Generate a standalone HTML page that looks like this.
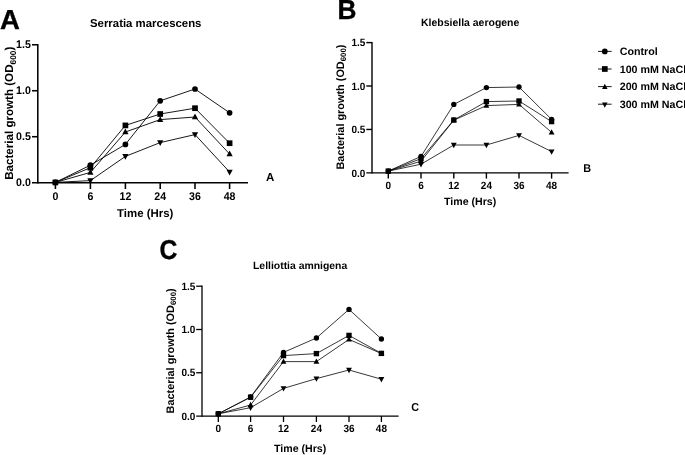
<!DOCTYPE html>
<html><head><meta charset="utf-8"><title>Bacterial growth</title>
<style>html,body{margin:0;padding:0;background:#fff;overflow:hidden}svg{display:block;will-change:transform}</style></head>
<body>
<svg width="685" height="455" viewBox="0 0 685 455" font-family="'Liberation Sans', sans-serif" fill="#000" text-rendering="geometricPrecision">
<rect width="685" height="455" fill="#fff"/>
<g stroke="#000" stroke-width="1.55" fill="none" stroke-linecap="butt">
<path d="M37.8 43.98 V183.47"/>
<path d="M32 182.7 H248"/>
<path d="M32 44.75 H37.8"/>
<path d="M32 90.73 H37.8"/>
<path d="M32 136.72 H37.8"/>
<path d="M55.4 182.7 V189"/>
<path d="M90.4 182.7 V189"/>
<path d="M125.4 182.7 V189"/>
<path d="M160.2 182.7 V189"/>
<path d="M195 182.7 V189"/>
<path d="M229.6 182.7 V189"/>
</g>
<g font-size="10.6" font-weight="bold">
<text transform="translate(30.8 48.35) scale(1 1.05)" text-anchor="end">1.5</text>
<text transform="translate(30.8 94.33) scale(1 1.05)" text-anchor="end">1.0</text>
<text transform="translate(30.8 140.32) scale(1 1.05)" text-anchor="end">0.5</text>
<text transform="translate(30.8 186.30) scale(1 1.05)" text-anchor="end">0.0</text>
<text transform="translate(55.4 199.6) scale(1 1.05)" text-anchor="middle">0</text>
<text transform="translate(90.4 199.6) scale(1 1.05)" text-anchor="middle">6</text>
<text transform="translate(125.4 199.6) scale(1 1.05)" text-anchor="middle">12</text>
<text transform="translate(160.2 199.6) scale(1 1.05)" text-anchor="middle">24</text>
<text transform="translate(195 199.6) scale(1 1.05)" text-anchor="middle">36</text>
<text transform="translate(229.6 199.6) scale(1 1.05)" text-anchor="middle">48</text>
</g>
<text x="117" y="217" font-size="11.45" font-weight="bold">Time (Hrs)</text>
<text x="90" y="26.8" font-size="11.4" font-weight="bold">Serratia marcescens</text>
<text transform="translate(13.3 179.8) rotate(-90)" font-size="11.6" font-weight="bold">Bacterial growth (OD<tspan font-size="8.35" dy="2.44">600</tspan><tspan dy="-2.44">)</tspan></text>
<text transform="translate(0.05 28.9) scale(1 1)" font-size="27.5" font-weight="bold" stroke="#000" stroke-width="0.35">A</text>
<text transform="translate(266 181.3) scale(1 1)" font-size="11.5" font-weight="bold">A</text>
<polyline points="55.40,182.40 90.40,165.20 125.40,144.40 160.20,100.80 195.00,89.00 229.60,112.80" fill="none" stroke="#000" stroke-width="0.9"/>
<polyline points="55.40,182.40 90.40,167.70 125.40,125.40 160.20,114.00 195.00,108.20 229.60,143.20" fill="none" stroke="#000" stroke-width="0.9"/>
<polyline points="55.40,182.40 90.40,172.40 125.40,132.00 160.20,119.60 195.00,117.00 229.60,154.00" fill="none" stroke="#000" stroke-width="0.9"/>
<polyline points="55.40,182.40 90.40,180.60 125.40,156.40 160.20,142.60 195.00,134.60 229.60,172.00" fill="none" stroke="#000" stroke-width="0.9"/>
<circle cx="55.40" cy="182.40" r="2.85"/>
<circle cx="90.40" cy="165.20" r="2.85"/>
<circle cx="125.40" cy="144.40" r="2.85"/>
<circle cx="160.20" cy="100.80" r="2.85"/>
<circle cx="195.00" cy="89.00" r="2.85"/>
<circle cx="229.60" cy="112.80" r="2.85"/>
<rect x="52.55" y="179.55" width="5.7" height="5.7"/>
<rect x="87.55" y="164.85" width="5.7" height="5.7"/>
<rect x="122.55" y="122.55" width="5.7" height="5.7"/>
<rect x="157.35" y="111.15" width="5.7" height="5.7"/>
<rect x="192.15" y="105.35" width="5.7" height="5.7"/>
<rect x="226.75" y="140.35" width="5.7" height="5.7"/>
<polygon points="90.40,168.98 93.50,174.68 87.30,174.68"/>
<polygon points="125.40,128.58 128.50,134.28 122.30,134.28"/>
<polygon points="160.20,116.18 163.30,121.88 157.10,121.88"/>
<polygon points="195.00,113.58 198.10,119.28 191.90,119.28"/>
<polygon points="229.60,150.58 232.70,156.28 226.50,156.28"/>
<polygon points="90.40,184.02 93.50,178.32 87.30,178.32"/>
<polygon points="125.40,159.82 128.50,154.12 122.30,154.12"/>
<polygon points="160.20,146.02 163.30,140.32 157.10,140.32"/>
<polygon points="195.00,138.02 198.10,132.32 191.90,132.32"/>
<polygon points="229.60,175.42 232.70,169.72 226.50,169.72"/>
<g stroke="#000" stroke-width="1.4" fill="none" stroke-linecap="butt">
<path d="M372 41.90 V173.55"/>
<path d="M366.3 172.85 H568.6"/>
<path d="M366.3 42.6 H372"/>
<path d="M366.3 86.0 H372"/>
<path d="M366.3 129.45 H372"/>
<path d="M388.3 172.85 V178.6"/>
<path d="M421 172.85 V178.6"/>
<path d="M453.8 172.85 V178.6"/>
<path d="M486.4 172.85 V178.6"/>
<path d="M519 172.85 V178.6"/>
<path d="M551.6 172.85 V178.6"/>
</g>
<g font-size="10.0" font-weight="bold">
<text transform="translate(365.4 46.25) scale(1 1.05)" text-anchor="end">1.5</text>
<text transform="translate(365.4 89.65) scale(1 1.05)" text-anchor="end">1.0</text>
<text transform="translate(365.4 133.10) scale(1 1.05)" text-anchor="end">0.5</text>
<text transform="translate(365.4 176.50) scale(1 1.05)" text-anchor="end">0.0</text>
<text transform="translate(388.3 188.8) scale(1 1.05)" text-anchor="middle">0</text>
<text transform="translate(421 188.8) scale(1 1.05)" text-anchor="middle">6</text>
<text transform="translate(453.8 188.8) scale(1 1.05)" text-anchor="middle">12</text>
<text transform="translate(486.4 188.8) scale(1 1.05)" text-anchor="middle">24</text>
<text transform="translate(519 188.8) scale(1 1.05)" text-anchor="middle">36</text>
<text transform="translate(551.6 188.8) scale(1 1.05)" text-anchor="middle">48</text>
</g>
<text x="444" y="205.2" font-size="10.6" font-weight="bold">Time (Hrs)</text>
<text x="421" y="26" font-size="10.48" font-weight="bold">Klebsiella aerogene</text>
<text transform="translate(344.0 169.6) rotate(-90)" font-size="10.9" font-weight="bold">Bacterial growth (OD<tspan font-size="7.85" dy="2.29">600</tspan><tspan dy="-2.29">)</tspan></text>
<text transform="translate(337.5 19.0) scale(0.955 1)" font-size="27.5" font-weight="bold" stroke="#000" stroke-width="0.35">B</text>
<text transform="translate(583.2 171.5) scale(0.97 1)" font-size="11.2" font-weight="bold">B</text>
<polyline points="388.30,171.10 421.00,156.40 453.80,104.40 486.40,87.60 519.00,87.00 551.60,119.40" fill="none" stroke="#000" stroke-width="0.78"/>
<polyline points="388.30,171.10 421.00,158.70 453.80,120.00 486.40,101.60 519.00,101.00 551.60,121.60" fill="none" stroke="#000" stroke-width="0.78"/>
<polyline points="388.30,171.10 421.00,161.20 453.80,120.20 486.40,105.60 519.00,104.40 551.60,132.40" fill="none" stroke="#000" stroke-width="0.78"/>
<polyline points="388.30,171.10 421.00,164.20 453.80,145.00 486.40,145.00 519.00,135.40 551.60,151.60" fill="none" stroke="#000" stroke-width="0.78"/>
<circle cx="388.30" cy="171.10" r="2.68"/>
<circle cx="421.00" cy="156.40" r="2.68"/>
<circle cx="453.80" cy="104.40" r="2.68"/>
<circle cx="486.40" cy="87.60" r="2.68"/>
<circle cx="519.00" cy="87.00" r="2.68"/>
<circle cx="551.60" cy="119.40" r="2.68"/>
<rect x="385.62" y="168.42" width="5.358" height="5.358"/>
<rect x="418.32" y="156.02" width="5.358" height="5.358"/>
<rect x="451.12" y="117.32" width="5.358" height="5.358"/>
<rect x="483.72" y="98.92" width="5.358" height="5.358"/>
<rect x="516.32" y="98.32" width="5.358" height="5.358"/>
<rect x="548.92" y="118.92" width="5.358" height="5.358"/>
<polygon points="421.00,157.99 423.91,163.34 418.09,163.34"/>
<polygon points="453.80,116.99 456.71,122.34 450.89,122.34"/>
<polygon points="486.40,102.39 489.31,107.74 483.49,107.74"/>
<polygon points="519.00,101.19 521.91,106.54 516.09,106.54"/>
<polygon points="551.60,129.19 554.51,134.54 548.69,134.54"/>
<polygon points="421.00,167.41 423.91,162.06 418.09,162.06"/>
<polygon points="453.80,148.21 456.71,142.86 450.89,142.86"/>
<polygon points="486.40,148.21 489.31,142.86 483.49,142.86"/>
<polygon points="519.00,138.61 521.91,133.26 516.09,133.26"/>
<polygon points="551.60,154.81 554.51,149.46 548.69,149.46"/>
<g stroke="#000" stroke-width="1.3" fill="none" stroke-linecap="butt">
<path d="M202.0 285.55 V416.70"/>
<path d="M196.2 416.05 H398.6"/>
<path d="M196.2 286.2 H202.0"/>
<path d="M196.2 329.5 H202.0"/>
<path d="M196.2 372.75 H202.0"/>
<path d="M218.3 416.05 V422"/>
<path d="M250.6 416.05 V422"/>
<path d="M283.5 416.05 V422"/>
<path d="M316.4 416.05 V422"/>
<path d="M349 416.05 V422"/>
<path d="M381.4 416.05 V422"/>
</g>
<g font-size="10.0" font-weight="bold">
<text transform="translate(195.4 289.85) scale(1 1.05)" text-anchor="end">1.5</text>
<text transform="translate(195.4 333.15) scale(1 1.05)" text-anchor="end">1.0</text>
<text transform="translate(195.4 376.40) scale(1 1.05)" text-anchor="end">0.5</text>
<text transform="translate(195.4 419.70) scale(1 1.05)" text-anchor="end">0.0</text>
<text transform="translate(218.3 432.3) scale(1 1.05)" text-anchor="middle">0</text>
<text transform="translate(250.6 432.3) scale(1 1.05)" text-anchor="middle">6</text>
<text transform="translate(283.5 432.3) scale(1 1.05)" text-anchor="middle">12</text>
<text transform="translate(316.4 432.3) scale(1 1.05)" text-anchor="middle">24</text>
<text transform="translate(349 432.3) scale(1 1.05)" text-anchor="middle">36</text>
<text transform="translate(381.4 432.3) scale(1 1.05)" text-anchor="middle">48</text>
</g>
<text x="274" y="452" font-size="10.6" font-weight="bold">Time (Hrs)</text>
<text x="253" y="269" font-size="10.42" font-weight="bold">Lelliottia amnigena</text>
<text transform="translate(173.8 413.4) rotate(-90)" font-size="10.9" font-weight="bold">Bacterial growth (OD<tspan font-size="7.85" dy="2.29">600</tspan><tspan dy="-2.29">)</tspan></text>
<text transform="translate(159.4 259.3) scale(0.905 1)" font-size="27.3" font-weight="bold" stroke="#000" stroke-width="0.35">C</text>
<text transform="translate(411.2 411.2) scale(0.93 1)" font-size="11.6" font-weight="bold">C</text>
<polyline points="218.30,413.80 250.60,397.00 283.50,352.40 316.40,338.00 349.00,309.40 381.40,339.00" fill="none" stroke="#000" stroke-width="0.78"/>
<polyline points="218.30,413.80 250.60,397.20 283.50,355.60 316.40,353.60 349.00,335.40 381.40,353.40" fill="none" stroke="#000" stroke-width="0.78"/>
<polyline points="218.30,413.80 250.60,405.00 283.50,361.60 316.40,361.60 349.00,339.40 381.40,353.60" fill="none" stroke="#000" stroke-width="0.78"/>
<polyline points="218.30,413.80 250.60,407.70 283.50,388.40 316.40,378.60 349.00,370.00 381.40,379.20" fill="none" stroke="#000" stroke-width="0.78"/>
<circle cx="218.30" cy="413.80" r="2.68"/>
<circle cx="250.60" cy="397.00" r="2.68"/>
<circle cx="283.50" cy="352.40" r="2.68"/>
<circle cx="316.40" cy="338.00" r="2.68"/>
<circle cx="349.00" cy="309.40" r="2.68"/>
<circle cx="381.40" cy="339.00" r="2.68"/>
<rect x="215.62" y="411.12" width="5.358" height="5.358"/>
<rect x="247.92" y="394.52" width="5.358" height="5.358"/>
<rect x="280.82" y="352.92" width="5.358" height="5.358"/>
<rect x="313.72" y="350.92" width="5.358" height="5.358"/>
<rect x="346.32" y="332.72" width="5.358" height="5.358"/>
<rect x="378.72" y="350.72" width="5.358" height="5.358"/>
<polygon points="250.60,401.79 253.51,407.14 247.69,407.14"/>
<polygon points="283.50,358.39 286.41,363.74 280.59,363.74"/>
<polygon points="316.40,358.39 319.31,363.74 313.49,363.74"/>
<polygon points="349.00,336.19 351.91,341.54 346.09,341.54"/>
<polygon points="381.40,350.39 384.31,355.74 378.49,355.74"/>
<polygon points="250.60,410.91 253.51,405.56 247.69,405.56"/>
<polygon points="283.50,391.61 286.41,386.26 280.59,386.26"/>
<polygon points="316.40,381.81 319.31,376.46 313.49,376.46"/>
<polygon points="349.00,373.21 351.91,367.86 346.09,367.86"/>
<polygon points="381.40,382.41 384.31,377.06 378.49,377.06"/>
<path d="M598 51.4 H611.6" stroke="#000" stroke-width="0.9"/>
<circle cx="604.80" cy="51.40" r="2.85"/>
<text x="619.7" y="55.05" font-size="10.7" font-weight="bold">Control</text>
<path d="M598 69 H611.6" stroke="#000" stroke-width="0.9"/>
<rect x="601.95" y="66.15" width="5.7" height="5.7"/>
<text x="619.7" y="72.65" font-size="10.7" font-weight="bold">100 mM NaCl</text>
<path d="M598 86.6 H611.6" stroke="#000" stroke-width="0.9"/>
<polygon points="604.80,83.72 607.55,89.02 602.05,89.02"/>
<text x="619.7" y="90.25" font-size="10.7" font-weight="bold">200 mM NaCl</text>
<path d="M598 104.2 H611.6" stroke="#000" stroke-width="0.9"/>
<polygon points="604.80,107.68 607.55,102.38 602.05,102.38"/>
<text x="619.7" y="107.85" font-size="10.7" font-weight="bold">300 mM NaCl</text>
</svg>
</body></html>
